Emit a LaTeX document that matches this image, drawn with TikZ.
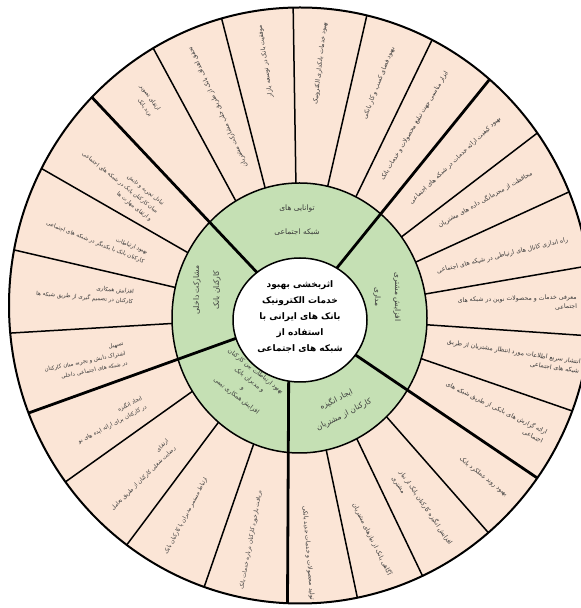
\documentclass[tikz,border=0pt]{standalone}
\usepackage{fontspec}
\newfontfamily\arabicfont[Script=Arabic]{DejaVu Sans}
\TeXXeTstate=1
\newcommand{\fa}[1]{\beginR #1\endR}
\definecolor{peach}{HTML}{FBE5D6}
\definecolor{leaf}{HTML}{C5E0B4}
\definecolor{ink}{HTML}{3A3A3A}
\begin{document}
\begin{tikzpicture}[x=1pt,y=1pt,
  ot/.style={font=\arabicfont\fontsize{6.2}{9.5}\selectfont, text=ink, inner sep=0pt, align=right},
  lt/.style={font=\arabicfont\fontsize{5.6}{10}\selectfont, text=ink, inner sep=0pt, align=right},
  gt/.style={font=\arabicfont\fontsize{7.5}{10}\selectfont, text=ink, inner sep=0pt, align=center},
  thinline/.style={line width=1.5pt, draw=black},
  thickline/.style={line width=2.8pt, draw=black}]
\useasboundingbox (0,0) rectangle (581,608);
\coordinate (C) at (298,292);
\coordinate (B) at (289,292);
% outer ring
\fill[peach] (300,302.5) ellipse [x radius=291, y radius=298];
\begin{scope}
  \clip (300,302.5) ellipse [x radius=291, y radius=298];
  \foreach \a in {90.9,77.1,64.1,37.4,24.6,9.8,-3.9,-19.1,-48.7,-64.4,-78.1,-109.1,-126.8,-144.5,-176.6,166.9,150.1,118.4,104.4}
    \draw[thinline] (C) -- ++(\a:420);
\end{scope}
% green ring
\fill[leaf] (299.5,290) ellipse [x radius=127.5, y radius=135];
\begin{scope}
  \clip (300,302.5) ellipse [x radius=291, y radius=298];
  \foreach \a in {51.0,-34.1,-160.2,133.3}
    \draw[thickline] (C) -- ++(\a:420);
  \draw[thickline] (B) -- ++(-90.3:420);
\end{scope}
\draw[line width=1.5pt] (299.5,290) ellipse [x radius=127.5, y radius=135];
\filldraw[fill=white, draw=black, line width=1.5pt] (300,288) ellipse [x radius=67, y radius=62];
\draw[line width=2pt] (300,302.5) ellipse [x radius=291, y radius=298];

% centre
\node[font=\arabicfont\bfseries\fontsize{9}{16}\selectfont, align=center, inner sep=0pt] (c0) at (300,291)
  {\fa{اثربخشی بهبود}\\\fa{خدمات الکترونیک}\\\fa{بانک های ایرانی با}\\\fa{استفاده از}\\\fa{شبکه های اجتماعی}};

% green groups
\node[gt] (g1) at (297,388) {\fa{توانایی های}\\[14pt]\fa{شبکه اجتماعی}};
\node[gt, rotate=-90] (g2) at (387,311) {\fa{افزایش مشتری}\\[10pt]\fa{مداری}};
\node[gt, rotate=90] (g3) at (207,318) {\fa{مشارکت داخلی}\\[10pt]\fa{کارکنان بانک}};
\node[gt, rotate=27] (g4) at (340,201) {\fa{ایجاد انگیزه}\\[7pt]\fa{کارکنان از مشتریان}};
\node[gt, font=\arabicfont\fontsize{6.2}{10.5}\selectfont, rotate=-38] (g5) at (246,224)
  {\fa{بهبود ارتباطات بین کارکنان}\\\fa{و مدیران بانک}\\\fa{و}\\\fa{افزایش همکاری تیمی}};

% outer sectors, right and top
\node[ot, anchor=east, rotate=115] (s2) at (190,561) {\fa{تحقق اهداف بانک از طریق جلب مشارکت مشتریان}};
\node[ot, anchor=east, rotate=98.5] (s3) at (260,583) {\fa{موفقیت بانک در توسعه بازار}};
\node[ot, anchor=east, rotate=83.5] (s4) at (325,586) {\fa{بهبود خدمات بانکداری الکترونیک}};
\node[ot, anchor=east, rotate=68.5] (s5) at (393,561) {\fa{بهبود فضای کسب و کار بانکی}};
\node[ot, anchor=east, rotate=59] (s6) at (447,536) {\fa{ابزار مناسبی جهت تبلیغ محصولات و خدمات بانک}};
\node[ot, anchor=east, rotate=43.5] (s7) at (500,490) {\fa{بهبود کیفیت ارائه خدمات در شبکه های اجتماعی}};
\node[ot, anchor=east, rotate=29.5] (s8) at (532,435) {\fa{محافظت از محرمانگی داده های مشتریان}};
\node[ot, anchor=east, rotate=13.5] (s9) at (568,368) {\fa{راه اندازی کانال های ارتباطی در شبکه های اجتماعی}};
\node[ot, anchor=east, rotate=1.5] (s10) at (577,306) {\fa{معرفی خدمات و محصولات نوین در شبکه های}\\\fa{اجتماعی}};
\node[ot, anchor=east, rotate=-8.6] (s11) at (580,241) {\fa{انتشار سریع اطلاعات مورد انتظار مشتریان از طریق}\\\fa{شبکه های اجتماعی}};
\node[ot, anchor=east, rotate=-26] (s12) at (545,171) {\fa{ارائه گزارش های بانکی از طریق شبکه های}\\\fa{اجتماعی}};
\node[ot, anchor=east, rotate=-38] (s13) at (507,113) {\fa{بهبود روند عملکرد بانک}};
\node[ot, anchor=east, rotate=-55.5, align=left] (s14) at (447,61) {\fa{افزایش انگیزه کارکنان بانک از نیاز}\\\fa{مشتری}};
\node[ot, anchor=east, rotate=-63.5] (s15) at (390,33) {\fa{آگاهی بانک از نیازهای مشتریان}};
\node[ot, anchor=east, rotate=-85.5] (s16) at (312,8) {\fa{تولید محصولات و خدمات جدید بانکی}};

% outer sectors, left
\node[lt, rotate=79.4] (s20) at (251,68) {\fa{دریافت بازخورد کارکنان درباره خدمات بانک}};
\node[lt, rotate=62] (s19) at (186,92) {\fa{ارتباط مستمر مدیران با کارکنان بانک}};
\node[lt, rotate=44.4] (s18) at (140,133) {\fa{ارتقای}\\\fa{رضایت شغلی کارکنان از طریق تعامل}};
\node[lt, rotate=27.6] (s17) at (110,188) {\fa{ایجاد انگیزه}\\\fa{در کارکنان برای ارائه ایده های نو}};
\node[lt, rotate=11.6] (s24) at (85,246) {\fa{تسهیل}\\\fa{اشتراک دانش و تجربه میان کارکنان}\\\fa{در شبکه های اجتماعی داخلی}};
\node[lt, rotate=-4.8] (s23) at (85,315) {\fa{افزایش همکاری}\\\fa{کارکنان در تصمیم گیری از طریق شبکه ها}};
\node[lt, rotate=-21.5] (s22) at (97,370) {\fa{بهبود ارتباطات}\\\fa{کارکنان بانک با یکدیگر در شبکه های اجتماعی}};
\node[lt, rotate=-38.3] (s21) at (120,425) {\fa{تبادل تجربه و دانش}\\\fa{میان کارکنان بانک در شبکه های اجتماعی}\\\fa{و ارتقای مهارت ها}};
\node[lt, rotate=-54] (s1) at (146,507) {\fa{ارتقای تصویر}\\\fa{برند بانک}};
\end{tikzpicture}
\end{document}
